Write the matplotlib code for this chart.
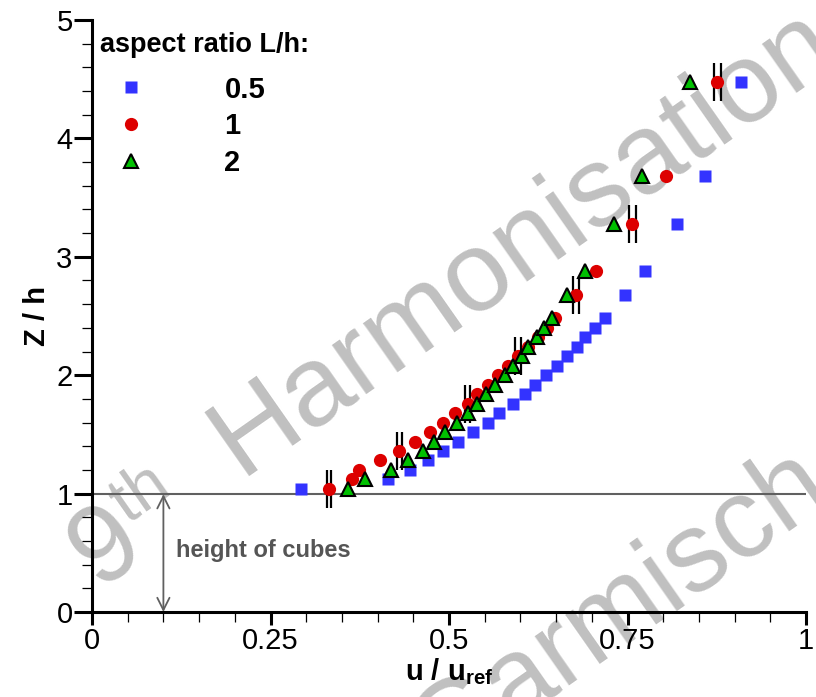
import numpy as np
import matplotlib
matplotlib.use('Agg')
import matplotlib.pyplot as plt
from matplotlib.ticker import MultipleLocator, FixedLocator, FixedFormatter

plt.rcParams['font.family'] = ['Liberation Sans', 'DejaVu Sans']
plt.rcParams['mathtext.fontset'] = 'custom'
plt.rcParams['mathtext.bf'] = 'Liberation Sans:bold'
plt.rcParams['mathtext.rm'] = 'Liberation Sans'

#heights (z/h) shared by all three series
z = [1.04, 1.12, 1.20, 1.28, 1.36, 1.44, 1.52, 1.60, 1.68, 1.76, 1.84, 1.92,
     2.00, 2.08, 2.16, 2.24, 2.32, 2.40, 2.48, 2.68, 2.88, 3.28, 3.68, 4.48]

#u/uref for L/h = 0.5, 1, 2
u_05 = [0.293, 0.414, 0.446, 0.470, 0.492, 0.513, 0.533, 0.554, 0.570, 0.589, 0.607, 0.621,
        0.636, 0.651, 0.665, 0.679, 0.691, 0.705, 0.718, 0.746, 0.774, 0.820, 0.858, 0.909]
u_1 = [0.332, 0.364, 0.374, 0.404, 0.430, 0.452, 0.474, 0.492, 0.509, 0.526, 0.539, 0.554,
       0.569, 0.583, 0.597, 0.611, 0.625, 0.637, 0.648, 0.678, 0.706, 0.757, 0.804, 0.876]
u_2 = [0.359, 0.382, 0.419, 0.442, 0.463, 0.479, 0.494, 0.511, 0.526, 0.539, 0.552, 0.565,
       0.579, 0.590, 0.602, 0.610, 0.623, 0.633, 0.644, 0.665, 0.691, 0.731, 0.770, 0.837]

#error bars on some L/h=1 points
err_idx = [0, 4, 9, 14, 19, 21, 23]
err_u = [0.0033, 0.0035, 0.0035, 0.0042, 0.0047, 0.0047, 0.005]

x_ticks = [0, 0.25, 0.5, 0.75, 1]
x_labels = ['0', '0.25', '0.5', '0.75', '1']
y_ticks = [0, 1, 2, 3, 4, 5]
y_labels = ['0', '1', '2', '3', '4', '5']

W, H = 816, 697
fig = plt.figure(figsize=(W/100, H/100), dpi=100)

#watermark (behind the axes)
wm_col = '#c0c0c0'
wm_size = 79
ang = 35
ca, sa = np.cos(np.radians(ang)), np.sin(np.radians(ang))
def px(x, y):
    return x/W, (H - y)/H
def wm(x, y, s, size):
    fig.text(*px(x, y), s, fontsize=size, color=wm_col, rotation=ang,
             rotation_mode='anchor', ha='left', va='baseline', zorder=-5)
q0 = (98, 588)
wm(q0[0], q0[1], '9', wm_size)
wm(q0[0] + 61*ca - 36*sa, q0[1] - 61*sa - 36*ca, 'th', 48)
wm(q0[0] + 180*ca - 10*sa, q0[1] - 180*sa - 10*ca, 'Harmonisation', 82)
wm(440, 772, 'Garmisch', wm_size + 2)

ax = fig.add_axes([92/W, 85/H, 714/W, 592/H])
ax.patch.set_alpha(0)

#cube height line and arrow
ax.axhline(1, color='#606060', lw=1.5, zorder=1)
ax.annotate('', xy=(0.1, 0.0), xytext=(0.1, 0.995),
            arrowprops=dict(arrowstyle='<->', color='#606060', lw=1.3,
                            mutation_scale=22, shrinkA=0, shrinkB=0))
ax.text(0.117, 0.52, 'height of cubes', color='#555555', fontsize=17,
        fontweight='bold', va='center', ha='left')

ax.errorbar([u_1[i] for i in err_idx], [z[i] for i in err_idx], xerr=err_u,
            fmt='none', ecolor='black', elinewidth=1.5, capsize=14, capthick=1.6, zorder=2)

ax.plot(u_05, z, 's', color='#3333ff', ms=8, mec='none', label='0.5', zorder=3)
ax.plot(u_1, z, 'o', color='#dd0000', ms=9.5, mec='none', label='1', zorder=4)
ax.plot(u_2, z, '^', color='#00c000', ms=10.5, mec='black', mew=1.5, label='2', zorder=5)

ax.set_xlim(0, 1)
ax.set_ylim(0, 5)
ax.xaxis.set_major_locator(FixedLocator(x_ticks))
ax.xaxis.set_major_formatter(FixedFormatter(x_labels))
ax.yaxis.set_major_locator(FixedLocator(y_ticks))
ax.yaxis.set_major_formatter(FixedFormatter(y_labels))
ax.xaxis.set_minor_locator(MultipleLocator(0.05))
ax.yaxis.set_minor_locator(MultipleLocator(0.2))

for s in ['top', 'right']:
    ax.spines[s].set_visible(False)
for s in ['left', 'bottom']:
    ax.spines[s].set_linewidth(2.2)

ax.tick_params(axis='x', which='major', direction='out', length=9, width=2.2,
               labelsize=21, pad=2)
ax.tick_params(axis='y', which='major', direction='out', length=13, width=2.2,
               labelsize=21, pad=1)
ax.tick_params(which='minor', direction='out', length=7, width=0.9)

ax.set_xlabel(r'u / u$_{\mathbf{ref}}$', fontsize=21, fontweight='bold', labelpad=1)
ax.set_ylabel('Z / h', fontsize=21, fontweight='bold', labelpad=4)

#legend: title as own text so the gap can be set
ax.text(0.0112, 0.946, 'aspect ratio L/h:', transform=ax.transAxes, fontsize=19.5,
        fontweight='bold', ha='left', va='baseline')
leg = ax.legend(loc='upper left', bbox_to_anchor=(0.014, 0.906), frameon=False,
                prop={'weight': 'bold', 'size': 21}, handlelength=2.0, handletextpad=2.2,
                labelspacing=0.3, borderpad=0, borderaxespad=0, numpoints=1)

fig.savefig('out.png', dpi=100)
